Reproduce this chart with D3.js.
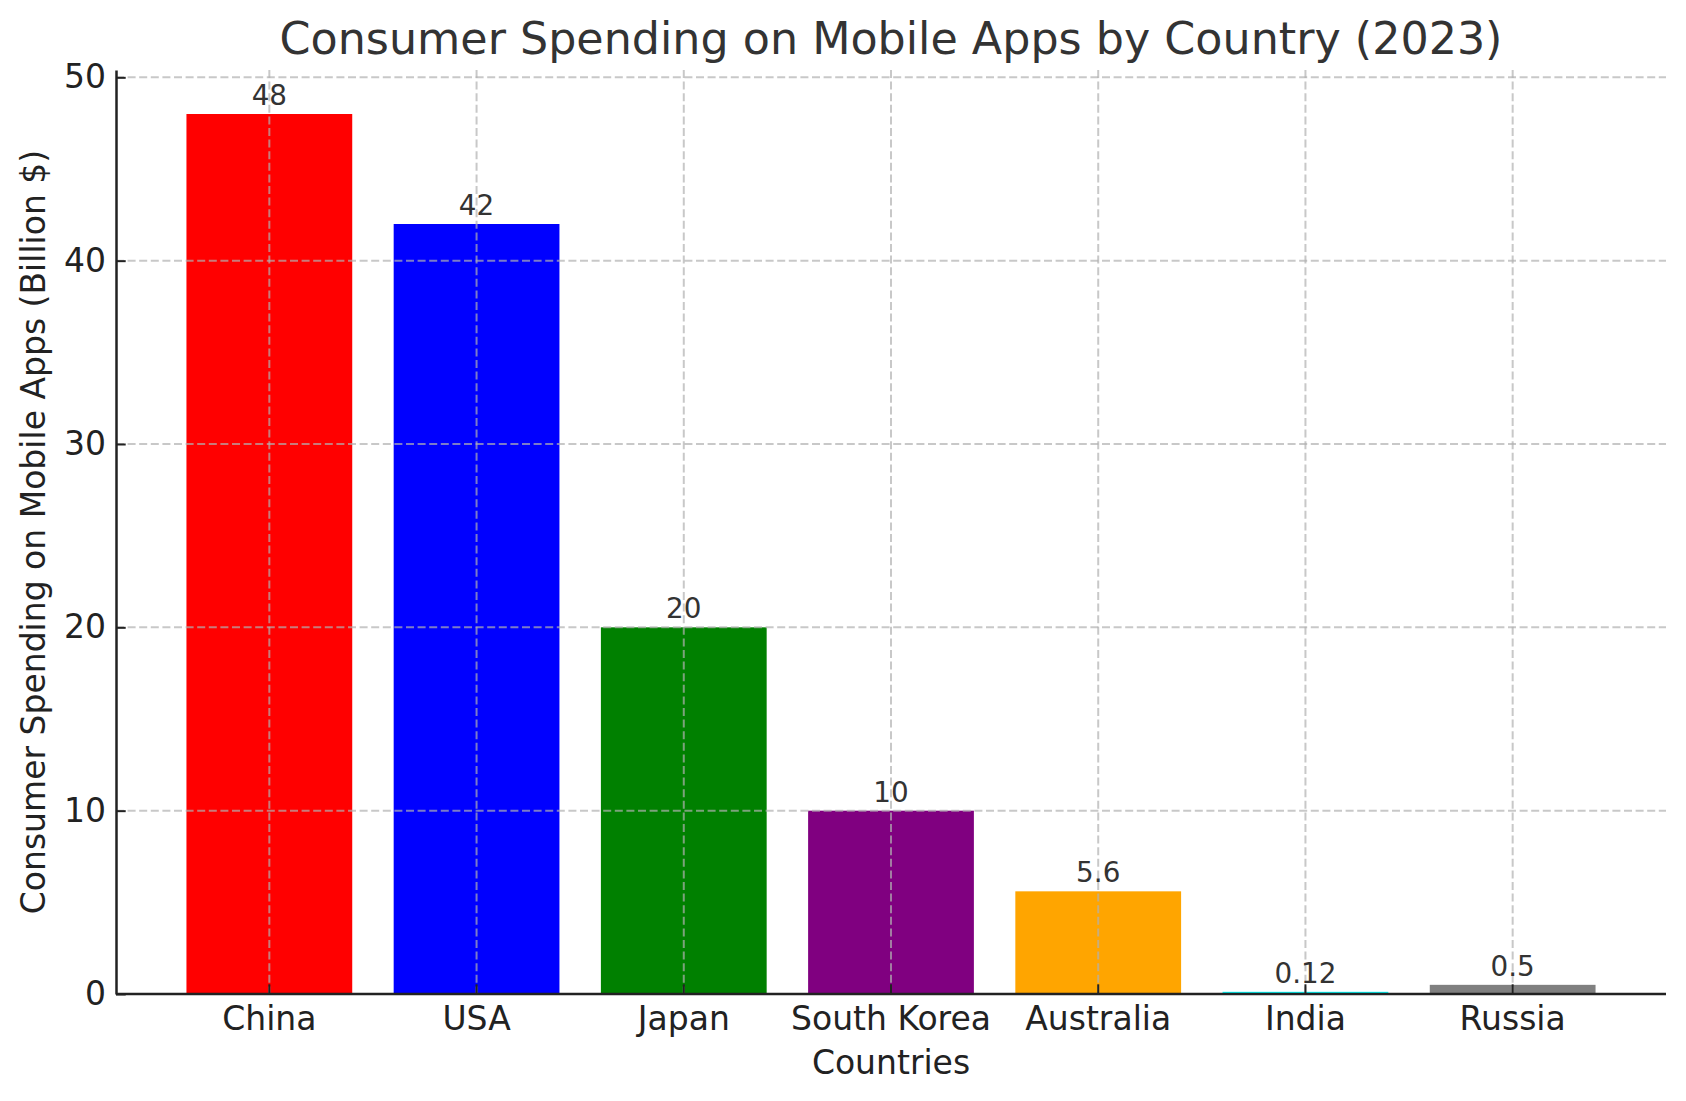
<!DOCTYPE html>
<html>
<head>
<meta charset="utf-8">
<script src="https://cdn.jsdelivr.net/npm/d3@7"></script>
<style>
  body { margin: 0; background: #fff; }
  svg text { font-family: "DejaVu Sans", sans-serif; }
</style>
</head>
<body>
<div id="chart"></div>
<script>
// data
const countries = ["China", "USA", "Japan", "South Korea", "Australia", "India", "Russia"]
const spending = [48, 42, 20, 10, 5.6, 0.12, 0.5]
const barColors = ["red", "blue", "green", "purple", "orange", "cyan", "gray"]
const yTicks = [0, 10, 20, 30, 40, 50]

const width = 1686
const height = 1101
const margin = {top: 70, right: 20, bottom: 107, left: 116}

const svg = d3.select("#chart").append("svg")
    .attr("width", width)
    .attr("height", height)

const x = d3.scaleBand()
    .domain(countries)
    .range([margin.left, width - margin.right])
    .paddingInner(0.2)
    .paddingOuter(0.34)

const y = d3.scaleLinear()
    .domain([0, 50.4])
    .range([height - margin.bottom, margin.top])

// bars
svg.append("g").selectAll("rect")
    .data(countries).enter()
    .append("rect")
    .attr("x", d => x(d))
    .attr("width", x.bandwidth())
    .attr("y", (d, i) => y(spending[i]))
    .attr("height", (d, i) => y(0) - y(spending[i]))
    .attr("fill", (d, i) => barColors[i])

// grid on top of bars, like the reference
const grid = svg.append("g")
    .attr("stroke", "#b0b0b0")
    .attr("stroke-opacity", 0.7)
    .attr("stroke-width", 2)
    .attr("stroke-dasharray", "8,3.6")

grid.selectAll(".hgrid")
    .data(yTicks).enter()
    .append("line")
    .attr("x1", margin.left)
    .attr("x2", width - margin.right)
    .attr("y1", d => y(d))
    .attr("y2", d => y(d))

grid.selectAll(".vgrid")
    .data(countries).enter()
    .append("line")
    .attr("x1", d => x(d) + x.bandwidth() / 2)
    .attr("x2", d => x(d) + x.bandwidth() / 2)
    .attr("y1", margin.top)
    .attr("y2", height - margin.bottom)

// axes
const xAxis = d3.axisBottom(x).tickSizeInner(-9.7).tickSizeOuter(0).tickPadding(13)
const yAxis = d3.axisLeft(y).tickValues(yTicks).tickSizeInner(-9.7).tickSizeOuter(0).tickPadding(10)

const gx = svg.append("g")
    .attr("transform", "translate(0," + y(0) + ")")
    .call(xAxis)

const gy = svg.append("g")
    .attr("transform", "translate(" + margin.left + ",0)")
    .call(yAxis)

gx.select(".domain").attr("stroke", "#222").attr("stroke-width", 2.5)
    .attr("d", "M" + margin.left + ",0H" + (width - margin.right))
gy.select(".domain").attr("stroke", "#222").attr("stroke-width", 2.5)
gx.selectAll(".tick line").attr("stroke", "#222").attr("stroke-width", 2)
gy.selectAll(".tick line").attr("stroke", "#222").attr("stroke-width", 2)
gx.selectAll(".tick text").attr("font-size", 33).attr("fill", "#222")
gy.selectAll(".tick text").attr("font-size", 33).attr("fill", "#222")

// value labels
svg.append("g").selectAll("text")
    .data(countries).enter()
    .append("text")
    .attr("x", d => x(d) + x.bandwidth() / 2)
    .attr("y", (d, i) => y(spending[i]) - 9)
    .attr("text-anchor", "middle")
    .attr("font-size", 27.8)
    .attr("fill", "#333")
    .text((d, i) => spending[i])

// titles
svg.append("text")
    .attr("x", (margin.left + width - margin.right) / 2)
    .attr("y", 54)
    .attr("text-anchor", "middle")
    .attr("font-size", 44.4)
    .attr("fill", "#333")
    .text("Consumer Spending on Mobile Apps by Country (2023)")

svg.append("text")
    .attr("x", (margin.left + width - margin.right) / 2)
    .attr("y", 1074)
    .attr("text-anchor", "middle")
    .attr("font-size", 33)
    .attr("fill", "#222")
    .text("Countries")

svg.append("text")
    .attr("transform", "translate(45," + (margin.top + y(0)) / 2 + ") rotate(-90)")
    .attr("text-anchor", "middle")
    .attr("font-size", 33)
    .attr("fill", "#222")
    .text("Consumer Spending on Mobile Apps (Billion $)")
</script>
</body>
</html>
